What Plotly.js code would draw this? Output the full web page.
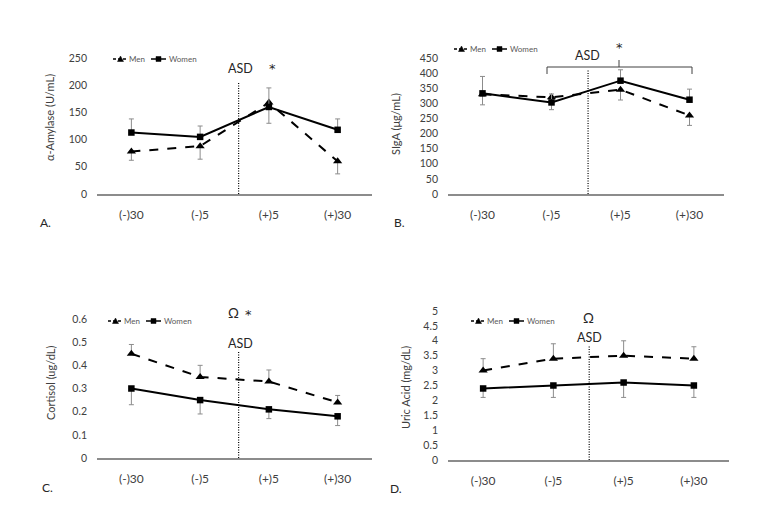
<!DOCTYPE html>
<html>
<head>
<meta charset="utf-8">
<script src="https://cdn.plot.ly/plotly-3.0.1.min.js"></script>
<style>html,body{margin:0;padding:0;background:#fff;}#chart{width:760px;height:527px;}</style>
</head>
<body>
<div id="chart"></div>
<script>
// ---------- DATA ----------
const categories = ["(-)30", "(-)5", "(+)5", "(+)30"];
const seriesNames = ["Men", "Women"];

const amylaseMen = [78, 88, 168, 60];
const amylaseMenErrMinus = [16, 24, 38, 23];
const amylaseWomen = [113, 105, 160, 118];
const amylaseWomenErrPlus = [25, 20, 35, 20];

const sigaMen = [330, 320, 345, 260];
const sigaMenErrMinus = [35, 41, 34, 33];
const sigaWomen = [333, 303, 375, 312];
const sigaWomenErrPlus = [56, 28, 36, 35];

const cortisolMen = [0.45, 0.35, 0.33, 0.24];
const cortisolMenErrPlus = [0.04, 0.05, 0.05, 0.03];
const cortisolWomen = [0.30, 0.25, 0.21, 0.18];
const cortisolWomenErrMinus = [0.07, 0.06, 0.04, 0.04];

const uricMen = [3.0, 3.4, 3.5, 3.4];
const uricMenErrPlus = [0.4, 0.5, 0.5, 0.4];
const uricWomen = [2.4, 2.5, 2.6, 2.5];
const uricWomenErrMinus = [0.3, 0.4, 0.5, 0.4];

// ---------- HELPERS ----------
const W = 760, H = 527;
const px = v => v / W;
const py = v => 1 - v / H;
const FONT = "Lato, 'Open Sans', sans-serif";
const STAR_FONT = "'DejaVu Sans', sans-serif";
const zeros = [0, 0, 0, 0];

function errBar(plus, minus) {
  return {type: 'data', symmetric: false, array: plus, arrayminus: minus,
          color: '#8c8c8c', thickness: 1, width: 2.5};
}
function menTrace(y, plus, minus, ax) {
  return {x: categories, y: y, name: seriesNames[0], type: 'scatter', mode: 'lines+markers',
    xaxis: 'x' + ax, yaxis: 'y' + ax, showlegend: false,
    line: {color: '#000', width: 2, dash: 'dash'},
    marker: {symbol: 'triangle-up', size: 8, color: '#000'},
    error_y: errBar(plus, minus)};
}
function womenTrace(y, plus, minus, ax) {
  return {x: categories, y: y, name: seriesNames[1], type: 'scatter', mode: 'lines+markers',
    xaxis: 'x' + ax, yaxis: 'y' + ax, showlegend: false,
    line: {color: '#000', width: 2},
    marker: {symbol: 'square', size: 6.5, color: '#000'},
    error_y: errBar(plus, minus)};
}

const traces = [
  menTrace(amylaseMen, zeros, amylaseMenErrMinus, ''),
  womenTrace(amylaseWomen, amylaseWomenErrPlus, zeros, ''),
  menTrace(sigaMen, zeros, sigaMenErrMinus, '2'),
  womenTrace(sigaWomen, sigaWomenErrPlus, zeros, '2'),
  menTrace(cortisolMen, cortisolMenErrPlus, zeros, '3'),
  womenTrace(cortisolWomen, zeros, cortisolWomenErrMinus, '3'),
  menTrace(uricMen, uricMenErrPlus, zeros, '4'),
  womenTrace(uricWomen, zeros, uricWomenErrMinus, '4')
];

function xAxis(x0, x1, anchor) {
  return {domain: [px(x0), px(x1)], anchor: anchor, type: 'category',
    range: [-0.5, 3.5], showgrid: false, zeroline: false, showline: true,
    linecolor: '#8c8c8c', linewidth: 1.5, ticks: '', ticklabelstandoff: 9,
    tickfont: {family: FONT, size: 12, color: '#404040'}, fixedrange: true};
}
function yAxis(y0, y1, anchor, max, dtick) {
  return {domain: [py(y1), py(y0)], anchor: anchor, range: [0, max], dtick: dtick,
    tick0: 0, showgrid: false, zeroline: false, showline: false, ticks: '',
    ticklabelstandoff: 9, tickfont: {family: FONT, size: 10.5, color: '#404040'},
    fixedrange: true};
}
function txt(x, y, t, size, extra) {
  return Object.assign({xref: 'paper', yref: 'paper', x: px(x), y: py(y), text: t,
    showarrow: false, xanchor: 'center', yanchor: 'middle',
    font: {family: FONT, size: size, color: '#262626'}}, extra || {});
}
function star(x, y) {
  return txt(x, y, '*', 13, {font: {family: STAR_FONT, size: 13, color: '#262626'}});
}
function ytitle(x, y, t) {
  return txt(x, y, t, 11, {textangle: -90, font: {family: FONT, size: 11, color: '#404040'}});
}
function asdLine(xref, xv, ytop, ybot) {
  return {type: 'line', xref: xref, yref: 'paper', x0: xv, x1: xv, y0: py(ybot), y1: py(ytop),
    line: {color: '#000', width: 1.2, dash: '1px,1.5px'}};
}

// custom compact legend (Excel style): short line keys with marker
const shapes = [];
const annotations = [];
function legendKeys(s, y) {
  shapes.push({type: 'line', xref: 'paper', yref: 'paper', x0: px(s), x1: px(s + 13),
    y0: py(y), y1: py(y), line: {color: '#000', width: 1.5, dash: '3px,2px'}});
  shapes.push({type: 'path', xref: 'paper', yref: 'paper', fillcolor: '#000',
    line: {color: '#000', width: 0.5},
    path: `M ${px(s + 4.5)} ${py(y + 2.5)} L ${px(s + 10.5)} ${py(y + 2.5)} L ${px(s + 7.5)} ${py(y - 3)} Z`});
  annotations.push(txt(s + 14, y, seriesNames[0], 8,
    {xanchor: 'left', font: {family: FONT, size: 8, color: '#595959'}}));
  shapes.push({type: 'line', xref: 'paper', yref: 'paper', x0: px(s + 38), x1: px(s + 53),
    y0: py(y), y1: py(y), line: {color: '#000', width: 1.5}});
  shapes.push({type: 'rect', xref: 'paper', yref: 'paper', fillcolor: '#000',
    line: {color: '#000', width: 0.5},
    x0: px(s + 43), x1: px(s + 48), y0: py(y + 2.5), y1: py(y - 2.5)});
  annotations.push(txt(s + 54, y, seriesNames[1], 8,
    {xanchor: 'left', font: {family: FONT, size: 8, color: '#595959'}}));
}
legendKeys(113, 59);
legendKeys(454, 49);
legendKeys(108, 321);
legendKeys(471, 321);

shapes.push(
  asdLine('x', 1.56, 83, 194),
  asdLine('x2', 1.53, 70, 194),
  asdLine('x3', 1.56, 352, 458),
  asdLine('x4', 1.51, 345, 460),
  {type: 'path', xref: 'paper', yref: 'paper',
   path: `M ${px(547)} ${py(74)} L ${px(547)} ${py(67)} L ${px(692)} ${py(67)} L ${px(692)} ${py(74)}`,
   line: {color: '#404040', width: 1}},
  {type: 'line', xref: 'paper', yref: 'paper', x0: px(619), x1: px(619), y0: py(67), y1: py(60),
   line: {color: '#404040', width: 1}}
);

annotations.push(
  txt(240, 68, 'ASD', 12.5), star(272, 69), txt(45, 223, 'A.', 12),
  ytitle(50, 118, 'α-Amylase (U/mL)'),
  txt(587, 56, 'ASD', 12.5), star(619, 48), txt(399, 222, 'B.', 12),
  ytitle(395, 124, 'SIgA (μg/mL)'),
  txt(233, 313, 'Ω', 13.5), star(248, 314), txt(240, 343, 'ASD', 12.5), txt(47, 487, 'C.', 12),
  ytitle(50, 383, 'Cortisol (ug/dL)'),
  txt(588, 318, 'Ω', 13.5), txt(589, 337, 'ASD', 12.5), txt(396, 488, 'D.', 12),
  ytitle(405, 388, 'Uric Acid (mg/dL)')
);

const layout = {
  width: W, height: H, margin: {l: 0, r: 0, t: 0, b: 0},
  paper_bgcolor: '#fff', plot_bgcolor: 'rgba(0,0,0,0)',
  font: {family: FONT, color: '#404040'}, showlegend: false,
  xaxis: xAxis(97, 372, 'y'), yaxis: yAxis(58, 194, 'x', 250, 50),
  xaxis2: xAxis(448, 724, 'y2'), yaxis2: yAxis(58, 194, 'x2', 450, 50),
  xaxis3: xAxis(97, 372, 'y3'), yaxis3: yAxis(319, 458, 'x3', 0.6, 0.1),
  xaxis4: xAxis(448, 729, 'y4'), yaxis4: yAxis(311, 460, 'x4', 5, 0.5),
  shapes: shapes,
  annotations: annotations
};

Plotly.newPlot('chart', traces, layout, {displayModeBar: false, staticPlot: true});
</script>
</body>
</html>
